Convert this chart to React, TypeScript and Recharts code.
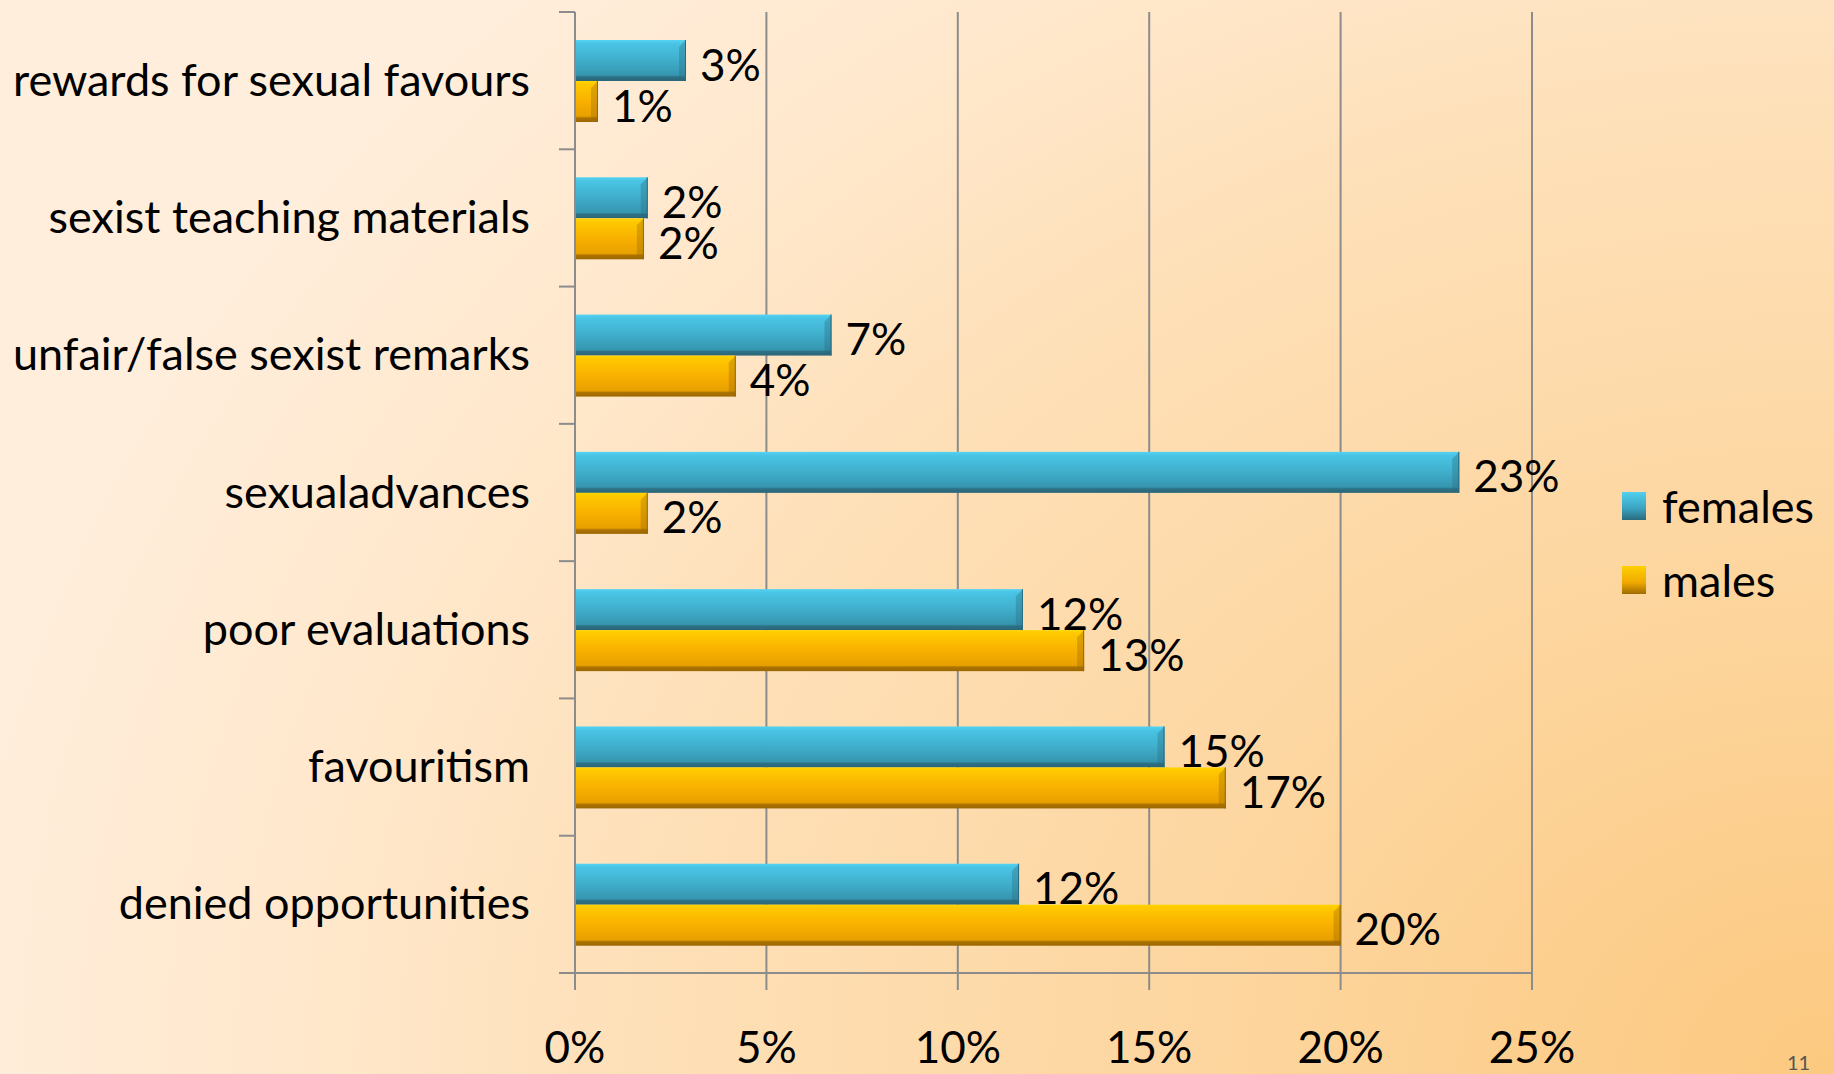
import React from 'react';
import { BarChart, Bar, XAxis, YAxis, CartesianGrid, Legend, LabelList } from 'recharts';

const categories = [
  'rewards for sexual favours',
  'sexist teaching materials',
  'unfair/false sexist remarks',
  'sexualadvances',
  'poor evaluations',
  'favouritism',
  'denied opportunities',
];
const females = [2.9, 1.9, 6.7, 23.1, 11.7, 15.4, 11.6];
const males = [0.6, 1.8, 4.2, 1.9, 13.3, 17.0, 20.0];
const xTicks = [0, 5, 10, 15, 20, 25];
const seriesNames = ['females', 'males'];

const data = categories.map((c, i) => ({ category: c, females: females[i], males: males[i] }));

const W = 1834;
const H = 1074;
const M_TOP = 12;
const X_AXIS_H = 101;
const Y_AXIS_W = 575;
const LEGEND_W = 224;
const M_RIGHT = 302 - LEGEND_W;
const BAND = (H - M_TOP - X_AXIS_H) / categories.length;
const FONT = 'Lato, "Open Sans", sans-serif';
const GRID = '#8C8C8C';

const YTick = (props: any) => {
  const { y, payload, index } = props;
  const ax = Y_AXIS_W;
  return (
    <g>
      <line x1={ax - 16} x2={ax} y1={y - BAND / 2} y2={y - BAND / 2} stroke={GRID} strokeWidth={2} />
      {index === categories.length - 1 && (
        <line x1={ax - 16} x2={ax} y1={y + BAND / 2} y2={y + BAND / 2} stroke={GRID} strokeWidth={2} />
      )}
      <text x={ax - 45} y={y - 2} textAnchor="end" dominantBaseline="central" fontSize={45} fontFamily={FONT} fill="#000">
        {payload.value}
      </text>
    </g>
  );
};

const XTick = (props: any) => {
  const { x, y, payload } = props;
  return (
    <text x={x} y={y + 54} textAnchor="middle" dominantBaseline="central" fontSize={44} fontFamily={FONT} fill="#000">
      {payload.value + '%'}
    </text>
  );
};

const ValueLabel = (props: any) => {
  const { x, y, width, height, value } = props;
  return (
    <text x={x + width + 14} y={y + height / 2 + 3} dominantBaseline="central" fontSize={44} fontFamily={FONT} fill="#000">
      {Math.round(value) + '%'}
    </text>
  );
};

const BevelBar = (props: any) => {
  const { x, y, width, height, fill, edge } = props;
  if (!width || width <= 0) return null;
  const b = Math.min(7, width / 2);
  return (
    <g>
      <rect x={x} y={y} width={width} height={height} fill={fill} />
      <polygon
        points={`${x + width},${y} ${x + width},${y + height} ${x + width - b},${y + height - 4} ${x + width - b},${y + b}`}
        fill={edge}
        opacity={0.35}
      />
      <line x1={x + width - 0.5} x2={x + width - 0.5} y1={y} y2={y + height} stroke={edge} strokeWidth={1} />
    </g>
  );
};

const swatch: Record<string, string> = { females: 'url(#gF)', males: 'url(#gM)' };

const LegendContent = () => (
  <svg width={LEGEND_W} height={140}>
    <defs>
      <linearGradient id="lgF" x1="0" y1="0" x2="0" y2="1">
        <stop offset="0" stopColor="#52CFEF" />
        <stop offset="0.6" stopColor="#3AA2BF" />
        <stop offset="1" stopColor="#2A6A7D" />
      </linearGradient>
      <linearGradient id="lgM" x1="0" y1="0" x2="0" y2="1">
        <stop offset="0" stopColor="#FFD000" />
        <stop offset="0.6" stopColor="#EFA800" />
        <stop offset="1" stopColor="#9E6B00" />
      </linearGradient>
    </defs>
    {seriesNames.map((n, i) => (
      <g key={n}>
        <rect x={12} y={12 + i * 74} width={24} height={28} fill={i === 0 ? 'url(#lgF)' : 'url(#lgM)'} />
        <text x={52} y={26 + i * 74} dominantBaseline="central" fontSize={45} fontFamily={FONT} fill="#000">
          {n}
        </text>
      </g>
    ))}
  </svg>
);

export default function App() {
  return (
    <div
      style={{
        position: 'absolute',
        left: 0,
        top: 0,
        width: W,
        height: H,
        overflow: 'hidden',
        background:
          'radial-gradient(ellipse 2000px 1600px at 100% 100%, #FCC980 0%, #FDD7A2 35%, #FEE0B8 60%, #FFE7CA 75%, #FFEEDC 95%)',
      }}
    >
      <BarChart
        layout="vertical"
        width={W}
        height={H}
        data={data}
        margin={{ top: M_TOP, right: M_RIGHT, bottom: 0, left: 0 }}
        barCategoryGap={28}
        barGap={0}
      >
        <defs>
          <linearGradient id="gF" x1="0" y1="0" x2="0" y2="1">
            <stop offset="0" stopColor="#55D3F2" />
            <stop offset="0.08" stopColor="#4AC5E6" />
            <stop offset="0.5" stopColor="#3FAECB" />
            <stop offset="0.86" stopColor="#3695AF" />
            <stop offset="0.9" stopColor="#2D7186" />
            <stop offset="1" stopColor="#2A6577" />
          </linearGradient>
          <linearGradient id="gM" x1="0" y1="0" x2="0" y2="1">
            <stop offset="0" stopColor="#FFD400" />
            <stop offset="0.08" stopColor="#FFC900" />
            <stop offset="0.5" stopColor="#F8B000" />
            <stop offset="0.86" stopColor="#E8A000" />
            <stop offset="0.9" stopColor="#AE7400" />
            <stop offset="1" stopColor="#9A6600" />
          </linearGradient>
        </defs>
        <CartesianGrid horizontal={false} stroke={GRID} strokeWidth={2} />
        <XAxis
          type="number"
          domain={[0, 25]}
          ticks={xTicks}
          height={X_AXIS_H}
          tickSize={17}
          tick={<XTick />}
          axisLine={{ stroke: GRID, strokeWidth: 2 }}
          tickLine={{ stroke: GRID, strokeWidth: 2 }}
        />
        <YAxis
          type="category"
          dataKey="category"
          width={Y_AXIS_W}
          tick={<YTick />}
          tickLine={false}
          axisLine={{ stroke: GRID, strokeWidth: 2 }}
          interval={0}
        />
        <Legend
          layout="vertical"
          align="right"
          verticalAlign="middle"
          content={<LegendContent />}
          wrapperStyle={{ position: 'absolute', left: 1610, top: 480, width: LEGEND_W, height: 140 }}
        />
        <Bar
          dataKey="females"
          name="females"
          fill={swatch.females}
          isAnimationActive={false}
          shape={(p: any) => <BevelBar {...p} fill="url(#gF)" edge="#2A6A7D" />}
        >
          <LabelList dataKey="females" content={<ValueLabel />} />
        </Bar>
        <Bar
          dataKey="males"
          name="males"
          fill={swatch.males}
          isAnimationActive={false}
          shape={(p: any) => <BevelBar {...p} fill="url(#gM)" edge="#9A6600" />}
        >
          <LabelList dataKey="males" content={<ValueLabel />} />
        </Bar>
      </BarChart>
      <div
        style={{
          position: 'absolute',
          left: 1787,
          top: 1050,
          fontSize: 20,
          fontFamily: FONT,
          color: '#555',
        }}
      >
        11
      </div>
    </div>
  );
}
